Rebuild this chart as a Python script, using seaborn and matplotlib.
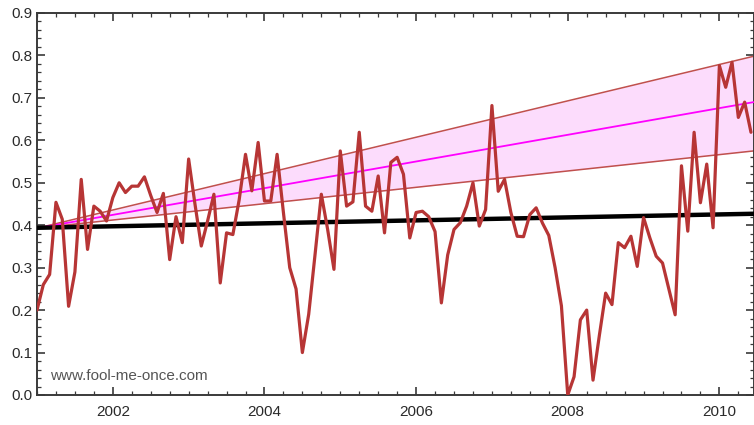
import numpy as np
import pandas as pd
import matplotlib
matplotlib.use("Agg")
import matplotlib.pyplot as plt
from matplotlib.ticker import MultipleLocator, FormatStrFormatter
import seaborn as sns

# Monthly temperature anomaly, January 2001 onwards
anomaly = [
    0.20, 0.26, 0.284, 0.454, 0.414, 0.209, 0.29, 0.508, 0.343, 0.445, 0.433, 0.41,
    0.465, 0.50, 0.477, 0.492, 0.492, 0.514, 0.47, 0.43, 0.475, 0.319, 0.42, 0.359,
    0.556, 0.45, 0.351, 0.41, 0.473, 0.264, 0.382, 0.378, 0.46, 0.567, 0.481, 0.595,
    0.457, 0.457, 0.567, 0.43, 0.30, 0.25, 0.10, 0.19, 0.33, 0.473, 0.39, 0.296,
    0.575, 0.445, 0.455, 0.619, 0.445, 0.433, 0.516, 0.382, 0.548, 0.56, 0.52, 0.37,
    0.43, 0.433, 0.42, 0.385, 0.217, 0.33, 0.39, 0.406, 0.445, 0.50, 0.398, 0.437,
    0.682, 0.48, 0.508, 0.43, 0.374, 0.373, 0.425, 0.441, 0.405, 0.376, 0.30, 0.21,
    0.0, 0.043, 0.177, 0.20, 0.035, 0.14, 0.24, 0.213, 0.359, 0.347, 0.374, 0.303,
    0.418, 0.37, 0.327, 0.311, 0.25, 0.189, 0.54, 0.386, 0.619, 0.453, 0.544, 0.394,
    0.776, 0.725, 0.784, 0.654, 0.69, 0.619,
]

# Projection cone and flat trend, given at the ends of the period
line_years = [2001.0, 2010.45]
cone_low = [0.393, 0.575]
cone_mid = [0.393, 0.690]
cone_high = [0.393, 0.798]
trend = [0.394, 0.427]

months = pd.date_range("2001-01-01", periods=len(anomaly), freq="MS")
dec_year = months.year + (months.month - 1) / 12.0
df = pd.DataFrame({"year": dec_year, "anomaly": anomaly})
lines = pd.DataFrame({"year": line_years, "low": cone_low, "mid": cone_mid,
                      "high": cone_high, "trend": trend})

sns.set_style("ticks")
plt.rcParams["font.family"] = ["Liberation Sans", "DejaVu Sans"]

fig = plt.figure(figsize=(7.54, 4.25), dpi=100)
W, H = 754, 425
ax = fig.add_axes([37 / W, 30 / H, (753.5 - 37) / W, (395 - 13) / H])

edge = "#c0504d"
ax.fill_between(lines["year"], lines["low"], lines["high"], color="#fcdcfc",
                linewidth=0, zorder=1)
sns.lineplot(data=lines, x="year", y="high", color=edge, linewidth=1.1, ax=ax, zorder=2)
sns.lineplot(data=lines, x="year", y="low", color=edge, linewidth=1.1, ax=ax, zorder=2)
sns.lineplot(data=lines, x="year", y="mid", color="#ff00ff", linewidth=1.3, ax=ax, zorder=3)
sns.lineplot(data=lines, x="year", y="trend", color="black", linewidth=3.2, ax=ax, zorder=4)
sns.lineplot(data=df, x="year", y="anomaly", color="#b73535", linewidth=2.3, ax=ax, zorder=5)

ax.set_xlim(2001.0, 2010.45)
ax.set_ylim(0.0, 0.9)
ax.set_xlabel("")
ax.set_ylabel("")

ax.xaxis.set_major_locator(MultipleLocator(2))
ax.xaxis.set_minor_locator(MultipleLocator(0.25))
ax.yaxis.set_major_locator(MultipleLocator(0.1))
ax.yaxis.set_minor_locator(MultipleLocator(0.02))
ax.yaxis.set_major_formatter(FormatStrFormatter("%.1f"))
ax.xaxis.set_major_formatter(FormatStrFormatter("%d"))

spine_col = "#3a3a3a"
for s in ax.spines.values():
    s.set_visible(True)
    s.set_color(spine_col)
    s.set_linewidth(1.4)

ax.tick_params(which="both", direction="in", top=True, right=True,
               color=spine_col, labelcolor="#2a2a2a", labelsize=11)
ax.tick_params(which="major", length=6, width=1.2)
ax.tick_params(which="minor", length=3, width=0.9)
ax.tick_params(axis="x", which="major", pad=7)
ax.tick_params(axis="y", which="major", pad=3)

ax.text(2001.17, 0.045, "www.fool-me-once.com", fontsize=11, color="#555555",
        ha="left", va="center", zorder=6)

fig.savefig("out.png", dpi=100)
